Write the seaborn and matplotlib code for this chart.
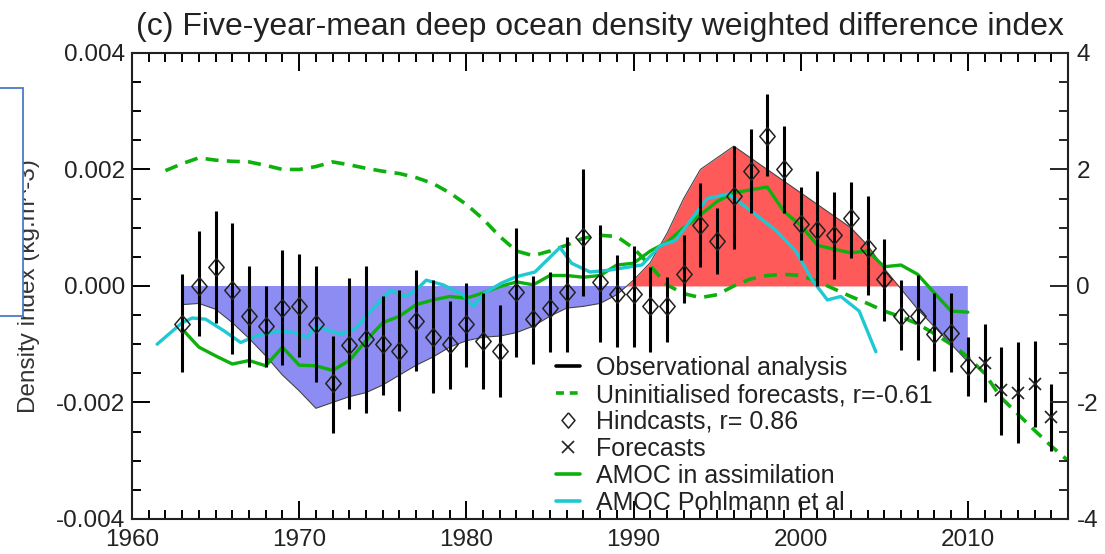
import numpy as np
import pandas as pd
import matplotlib
matplotlib.use('Agg')
import matplotlib.pyplot as plt
import matplotlib.patches as patches
from matplotlib.lines import Line2D
from matplotlib.ticker import MultipleLocator, FormatStrFormatter
import seaborn as sns

# Observational analysis (shaded red/blue)
obs_years = list(range(1963, 2011))
obs_values = [-0.00032, -0.0003, -0.0004, -0.00063, -0.0009, -0.0012, -0.00153, -0.0018,
              -0.0021, -0.002, -0.0019, -0.00183, -0.0017, -0.00153, -0.00136, -0.00122,
              -0.00105, -0.00094, -0.00088, -0.00086, -0.0008, -0.00069, -0.00052, -0.00038,
              -0.00035, -0.0003, -0.00015, 0.0001, 0.0004, 0.0009, 0.0015, 0.002,
              0.0022, 0.0024, 0.0022, 0.002, 0.0018, 0.0016, 0.0014, 0.0012,
              0.001, 0.0007, 0.0003, -0.00005, -0.0004, -0.0007, -0.001, -0.0013]

# Hindcasts (diamonds) with ranges
hind_years = list(range(1963, 2011))
hind_values = [-0.00066, 0.0, 0.00032, -0.00007, -0.00052, -0.00069, -0.00038, -0.00034,
               -0.00066, -0.00167, -0.00101, -0.00091, -0.001, -0.00111, -0.0006, -0.00088,
               -0.001, -0.00066, -0.00094, -0.00111, -0.00011, -0.00057, -0.00038, -0.00011,
               0.00084, 0.00007, -0.00014, -0.00014, -0.00035, -0.00035, 0.00021, 0.00104,
               0.00078, 0.00155, 0.00197, 0.00258, 0.002, 0.00107, 0.00096, 0.00087,
               0.00116, 0.00066, 0.00012, -0.00052, -0.00052, -0.00082, -0.0008, -0.00137]
hind_high = [0.0002, 0.00094, 0.00128, 0.00108, 0.00034, 0.0, 0.00062, 0.00055,
             0.00034, -0.00086, 0.00013, 0.00034, -0.00018, -0.00007, 0.00028, 0.0001,
             -0.00026, 0.00005, -0.00012, -0.00032, 0.001, 0.00017, 0.00024, 0.00084,
             0.002, 0.00104, 0.00054, 0.00069, 0.00033, 0.00015, 0.00087, 0.00176,
             0.00134, 0.0024, 0.00269, 0.0033, 0.00275, 0.0017, 0.00197, 0.00161,
             0.00179, 0.00155, 0.0008, 0.0001, 0.00018, -0.00012, -0.00012, -0.00088]
hind_low = [-0.00148, -0.00086, -0.00063, -0.00117, -0.00139, -0.00139, -0.00136, -0.00122,
            -0.00165, -0.00252, -0.00212, -0.00218, -0.00187, -0.00215, -0.00146, -0.00184,
            -0.00176, -0.00139, -0.00176, -0.0019, -0.00122, -0.00134, -0.00114, -0.00113,
            -0.00018, -0.00096, -0.00105, -0.00105, -0.00113, -0.00096, -0.00029, 0.00033,
            0.00021, 0.00063, 0.00125, 0.00188, 0.00125, 0.00045, 0.0, 0.00012,
            0.00048, -0.00015, -0.0006, -0.0011, -0.00127, -0.00146, -0.00147, -0.00189]

# Forecasts (crosses)
fc_years = [2011, 2012, 2013, 2014, 2015]
fc_values = [-0.00133, -0.00178, -0.00183, -0.00169, -0.00225]
fc_high = [-0.00066, -0.00105, -0.00097, -0.00094, -0.00169]
fc_low = [-0.002, -0.00256, -0.0027, -0.00242, -0.00284]

# Uninitialised forecasts (green dashed)
unini_years = list(range(1962, 2017))
unini_values = [0.00198, 0.0021, 0.0022, 0.00216, 0.00214, 0.00213, 0.00207, 0.002,
                0.002, 0.00205, 0.00213, 0.00208, 0.00202, 0.00197, 0.00193, 0.00186,
                0.00176, 0.0016, 0.0014, 0.00115, 0.00085, 0.0006, 0.00052, 0.0006,
                0.0007, 0.00082, 0.00087, 0.00085, 0.00065, 0.00035, 0.00002, -0.00013,
                -0.0002, -0.00015, 0.0, 0.00012, 0.00018, 0.0002, 0.00018, 0.00008,
                -0.00005, -0.00018, -0.0003, -0.00043, -0.00053, -0.00065, -0.00082, -0.001,
                -0.00122, -0.0015, -0.00192, -0.0022, -0.00248, -0.00275, -0.003]

# AMOC in assimilation (green solid)
amoc_years = list(range(1963, 2011))
amoc_values = [-0.00074, -0.00105, -0.0012, -0.00134, -0.00128, -0.00137, -0.00105, -0.00136,
               -0.00137, -0.00145, -0.00128, -0.00094, -0.00063, -0.00052, -0.00032, -0.00024,
               -0.00018, -0.00021, -0.00012, -0.00001, 0.00007, 0.00002, 0.00018, 0.00018,
               0.00015, 0.00018, 0.00036, 0.00039, 0.0006, 0.00075, 0.001, 0.00122,
               0.00145, 0.0016, 0.00165, 0.0017, 0.00128, 0.00104, 0.0007, 0.00063,
               0.00057, 0.0006, 0.00033, 0.00036, 0.0002, -0.00012, -0.00043, -0.00045]

# AMOC Pohlmann et al (cyan)
pohl_years = [1961.5, 1963, 1963.6, 1964.4, 1965.5, 1966.5, 1967.4, 1968.9, 1969.7, 1970.5,
              1971, 1972.5, 1973.4, 1974, 1975.1, 1975.5, 1976.4, 1977.1, 1977.6, 1978.6,
              1979.8, 1980.4, 1981.1, 1982.1, 1983, 1984.1, 1985.6, 1986.3, 1987.4, 1988.5,
              1990.5, 1991.6, 1992.5, 1994.4, 1995.7, 1997.2, 1998.5, 1999.7, 2000.7, 2001.6,
              2002.4, 2003.5, 2004.5]
pohl_values = [-0.001, -0.00063, -0.00055, -0.00057, -0.00077, -0.00097, -0.00086, -0.00077, -0.0008, -0.00088,
               -0.00069, -0.00083, -0.00072, -0.00052, -0.00018, -0.00007, -0.00018, -0.00004, 0.0001, 0.00002,
               -0.00015, -0.00035, -0.00012, 0.00005, 0.00016, 0.00024, 0.00066, 0.00039, 0.00024, 0.00027,
               0.00036, 0.00069, 0.00078, 0.0015, 0.00158, 0.00125, 0.00096, 0.0006, 0.0001, -0.00024,
               -0.00018, -0.00043, -0.00113]

legend_labels = ['Observational analysis', 'Uninitialised forecasts, r=-0.61',
                 'Hindcasts, r= 0.86', 'Forecasts', 'AMOC in assimilation',
                 'AMOC Pohlmann et al']

sns.set_theme(style='white')
plt.rcParams['font.family'] = ['Liberation Sans', 'DejaVu Sans']
plt.rcParams['axes.unicode_minus'] = False

GREEN = '#0DB00D'
CYAN = '#20C8D2'
RED = '#FF5A5A'
BLUE = '#8C8CF2'
DASH = (0, (3.6, 2.3))
# open diamond, a little taller than wide
DIAMOND = [(0, 1), (0.85, 0), (0, -1), (-0.85, 0), (0, 1)]

fig = plt.figure(figsize=(11.05, 5.54), dpi=100)
ax = fig.add_axes([0.1195, 0.0632, 0.8471, 0.8412])

obs = np.array(obs_values)
ax.fill_between(obs_years, obs, 0, where=obs >= 0, interpolate=True, color=RED, lw=0, zorder=1)
ax.fill_between(obs_years, obs, 0, where=obs <= 0, interpolate=True, color=BLUE, lw=0, zorder=1)
ax.plot(obs_years, obs, color='#444444', lw=0.8, zorder=1.5)

sns.lineplot(x=unini_years, y=unini_values, ax=ax, color=GREEN, lw=2.6,
             linestyle=DASH, zorder=3)
sns.lineplot(x=amoc_years, y=amoc_values, ax=ax, color=GREEN, lw=2.4, zorder=3)
sns.lineplot(x=pohl_years, y=pohl_values, ax=ax, color=CYAN, lw=2.4, zorder=3, sort=False)

ax.vlines(hind_years, hind_low, hind_high, color='black', lw=2.2, zorder=4)
ax.vlines(fc_years, fc_low, fc_high, color='black', lw=2.2, zorder=4)
ax.plot(hind_years, hind_values, linestyle='none', marker=DIAMOND, markersize=13,
        markerfacecolor='none', markeredgecolor='#222222', markeredgewidth=1.1, zorder=5)
ax.plot(fc_years, fc_values, linestyle='none', marker='x', markersize=8,
        color='#222222', markeredgewidth=1.2, zorder=5)

ax.set_xlim(1960, 2016)
ax.set_ylim(-0.004, 0.004)
ax.xaxis.set_major_locator(MultipleLocator(10))
ax.xaxis.set_minor_locator(MultipleLocator(1))
ax.yaxis.set_major_locator(MultipleLocator(0.002))
ax.yaxis.set_minor_locator(MultipleLocator(0.0005))
ax.yaxis.set_major_formatter(FormatStrFormatter('%.3f'))
ax.tick_params(which='both', direction='in', top=True, bottom=True, left=True, right=False,
               width=1.4, colors='black', labelsize=17.5, labelcolor='#222222')
ax.tick_params(which='major', length=13)
ax.tick_params(which='minor', length=6.5)
ax.tick_params(axis='y', which='major', pad=5)
ax.tick_params(axis='x', which='major', pad=7)
for s in ax.spines.values():
    s.set_linewidth(1.5)
    s.set_color('black')
ax.set_xlabel('')
ax.set_ylabel('Density index (kg.m^-3)', fontsize=17.5, color='#333333')
ax.yaxis.set_label_coords(40 / 1105, 1 - 286 / 554, transform=fig.transFigure)
ax.set_title('(c) Five-year-mean deep ocean density weighted difference index',
             fontsize=23, color='#222222', pad=13)

ax2 = ax.twinx()
ax2.set_ylim(-4, 4)
ax2.yaxis.set_major_locator(MultipleLocator(2))
ax2.yaxis.set_minor_locator(MultipleLocator(0.5))
ax2.tick_params(which='both', direction='in', right=True, width=1.4, labelsize=17.5,
                labelcolor='#222222')
ax2.tick_params(which='major', length=13, pad=6)
ax2.tick_params(which='minor', length=6.5)
ax2.grid(False)
ax.grid(False)

handles = [
    Line2D([], [], color='black', lw=2.6),
    Line2D([], [], color=GREEN, lw=2.6, linestyle=(0, (2.2, 1.6))),
    Line2D([], [], linestyle='none', marker=DIAMOND, markersize=11, markerfacecolor='none',
           markeredgecolor='#222222', markeredgewidth=1.1),
    Line2D([], [], linestyle='none', marker='x', markersize=8, color='#222222',
           markeredgewidth=1.2),
    Line2D([], [], color=GREEN, lw=2.6),
    Line2D([], [], color=CYAN, lw=2.6),
]
leg = fig.legend(handles, legend_labels, loc='upper left', bbox_to_anchor=(556 / 1105, 1 - 356 / 554),
                 frameon=False, fontsize=18, labelspacing=0.12, handlelength=0.95,
                 handletextpad=0.65, borderpad=0, borderaxespad=0)
for t in leg.get_texts():
    t.set_color('#222222')

# blue-bordered box over the left margin
box = patches.Rectangle((-2 / 1105, 1 - 316 / 554), 25 / 1105, 228 / 554,
                        transform=fig.transFigure, facecolor='white', edgecolor='#4A7CC4',
                        lw=1.3, zorder=10)
fig.patches.append(box)

fig.savefig('out.png', dpi=100)
